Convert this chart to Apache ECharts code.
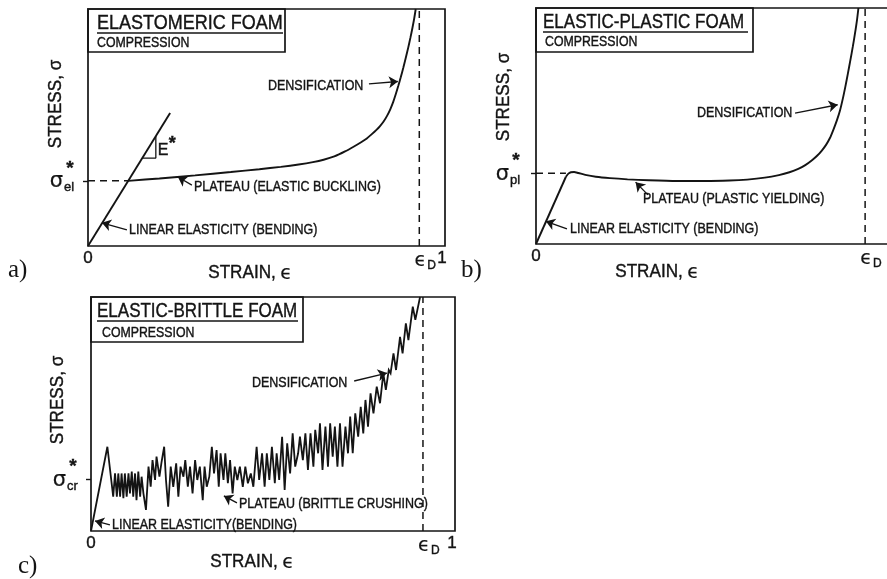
<!DOCTYPE html>
<html><head><meta charset="utf-8">
<script src="https://cdn.jsdelivr.net/npm/echarts@6/dist/echarts.min.js"></script>
<style>html,body{margin:0;padding:0;background:#fff}#c{width:887px;height:579px}</style>
</head><body><div id="c"></div>
<script>
// ---------- DATA (strain, stress in normalised units) ----------
// Panel a: elastomeric foam
const aLinX = [0, 0.23];
const aLinY = [0, 0.561];
const aPlatX = [0.113, 0.2, 0.3, 0.4, 0.48, 0.54, 0.59, 0.63, 0.66, 0.69, 0.72, 0.745, 0.765, 0.781, 0.795, 0.808, 0.818, 0.828, 0.838, 0.847, 0.855, 0.862, 0.869, 0.876, 0.883, 0.89, 0.897, 0.903, 0.909, 0.914, 0.918];
const aPlatY = [0.275, 0.285, 0.298, 0.312, 0.324, 0.334, 0.344, 0.354, 0.364, 0.378, 0.399, 0.42, 0.438, 0.454, 0.472, 0.49, 0.506, 0.525, 0.55, 0.578, 0.608, 0.64, 0.675, 0.712, 0.751, 0.793, 0.837, 0.878, 0.922, 0.962, 1.0];
const aSigma = 0.275;
const aEpsD = 0.928;
const aTriX = [0.152, 0.19, 0.19];
const aTriY = [0.371, 0.371, 0.463];

// Panel b: elastic-plastic foam
const bLinX = [0, 0.085];
const bLinY = [0, 0.285];
const bCurveX = [0.085, 0.092, 0.099, 0.108, 0.12, 0.14, 0.17, 0.21, 0.26, 0.32, 0.4, 0.48, 0.55, 0.6, 0.65, 0.69, 0.72, 0.745, 0.765, 0.785, 0.8, 0.812, 0.824, 0.835, 0.845, 0.855, 0.864, 0.872, 0.879, 0.886, 0.893, 0.9, 0.906, 0.912, 0.916];
const bCurveY = [0.285, 0.298, 0.304, 0.305, 0.301, 0.293, 0.285, 0.279, 0.274, 0.27, 0.267, 0.267, 0.269, 0.273, 0.281, 0.292, 0.304, 0.318, 0.334, 0.356, 0.376, 0.396, 0.42, 0.449, 0.485, 0.525, 0.568, 0.618, 0.668, 0.722, 0.778, 0.836, 0.89, 0.95, 1.0];
const bSigma = 0.30;
const bEpsD = 0.935;

// Panel c: elastic-brittle foam (sawtooth)
const cX = [0, 0.045, 0.061, 0.066, 0.071, 0.075, 0.08, 0.084, 0.089, 0.093, 0.098, 0.103, 0.107, 0.112, 0.116, 0.121, 0.125, 0.13, 0.135, 0.139, 0.144, 0.151, 0.158, 0.164, 0.169, 0.176, 0.18, 0.188, 0.194, 0.201, 0.206, 0.212, 0.219, 0.226, 0.234, 0.24, 0.246, 0.254, 0.259, 0.266, 0.272, 0.279, 0.286, 0.292, 0.299, 0.307, 0.312, 0.318, 0.325, 0.332, 0.338, 0.345, 0.351, 0.356, 0.364, 0.369, 0.376, 0.382, 0.389, 0.395, 0.402, 0.409, 0.417, 0.424, 0.431, 0.439, 0.446, 0.455, 0.462, 0.47, 0.477, 0.483, 0.49, 0.497, 0.505, 0.51, 0.517, 0.525, 0.532, 0.539, 0.547, 0.554, 0.561, 0.569, 0.574, 0.582, 0.589, 0.596, 0.603, 0.611, 0.616, 0.624, 0.629, 0.636, 0.644, 0.651, 0.657, 0.664, 0.67, 0.677, 0.684, 0.691, 0.699, 0.706, 0.712, 0.719, 0.726, 0.734, 0.741, 0.748, 0.754, 0.761, 0.768, 0.776, 0.785, 0.794, 0.803, 0.81, 0.818, 0.823, 0.831, 0.838, 0.849, 0.856, 0.865, 0.872, 0.884, 0.891, 0.904];
const cY = [0, 0.36, 0.147, 0.246, 0.147, 0.246, 0.147, 0.246, 0.14, 0.246, 0.147, 0.246, 0.161, 0.254, 0.147, 0.246, 0.132, 0.254, 0.147, 0.232, 0.161, 0.09, 0.275, 0.189, 0.303, 0.218, 0.318, 0.232, 0.296, 0.36, 0.218, 0.104, 0.275, 0.189, 0.289, 0.147, 0.275, 0.232, 0.303, 0.189, 0.275, 0.161, 0.303, 0.218, 0.275, 0.132, 0.275, 0.189, 0.232, 0.36, 0.246, 0.346, 0.189, 0.332, 0.218, 0.332, 0.204, 0.303, 0.161, 0.275, 0.218, 0.275, 0.189, 0.275, 0.204, 0.246, 0.189, 0.36, 0.218, 0.332, 0.189, 0.332, 0.218, 0.36, 0.204, 0.332, 0.218, 0.403, 0.175, 0.375, 0.246, 0.417, 0.275, 0.332, 0.403, 0.303, 0.417, 0.261, 0.417, 0.275, 0.432, 0.332, 0.46, 0.261, 0.446, 0.275, 0.46, 0.318, 0.446, 0.275, 0.46, 0.275, 0.446, 0.332, 0.489, 0.332, 0.503, 0.403, 0.531, 0.417, 0.56, 0.446, 0.588, 0.503, 0.617, 0.546, 0.674, 0.603, 0.688, 0.674, 0.759, 0.688, 0.83, 0.759, 0.887, 0.816, 0.959, 0.902, 1.0];
const cSigma = 0.222;
const cEpsD = 0.912;

// Annotation arrows [tailX, tailY, headX, headY] in data units
const aArrows = [[0.787, 0.684, 0.868, 0.694], [0.291, 0.257, 0.252, 0.291], [0.109, 0.068, 0.039, 0.098]];
const bArrows = [[0.736, 0.555, 0.857, 0.590], [0.318, 0.208, 0.283, 0.262], [0.088, 0.064, 0.028, 0.096]];
const cArrows = [[0.723, 0.641, 0.813, 0.675], [0.401, 0.120, 0.365, 0.150], [0.052, 0.026, 0.011, 0.043]];

// Texts
const titles = ['ELASTOMERIC FOAM', 'ELASTIC-PLASTIC FOAM', 'ELASTIC-BRITTLE FOAM'];
const subTitle = 'COMPRESSION';
const aNotes = ['DENSIFICATION', 'PLATEAU (ELASTIC BUCKLING)', 'LINEAR ELASTICITY (BENDING)'];
const bNotes = ['DENSIFICATION', 'PLATEAU (PLASTIC YIELDING)', 'LINEAR ELASTICITY (BENDING)'];
const cNotes = ['DENSIFICATION', 'PLATEAU (BRITTLE CRUSHING)', 'LINEAR ELASTICITY(BENDING)'];
const sigmaSubs = ['el', 'pl', 'cr'];
const panelTags = ['a)', 'b)', 'c)'];

// ---------- LAYOUT ----------
const L = {
  grids: [
    {left: 88, top: 9, width: 357, height: 237},
    {left: 536, top: 8, width: 352, height: 236},
    {left: 91, top: 297, width: 364, height: 234}
  ],
  titleBox: [[88, 9, 197, 43], [536, 8, 217, 44], [91, 297, 212, 45]],
  titlePos: [[97, 23, 0.9], [543, 22, 0.85], [97, 311, 0.85]],
  subPos: [[97, 43], [545, 42], [102, 333]],
  notePos: [
    [[268, 86], [194, 187], [129, 230]],
    [[697, 113], [643, 199], [570, 229]],
    [[252, 383], [239, 504], [112, 525]]
  ],
  stressPos: [[56, 104], [504, 97], [58, 400]],
  strainPos: [[250, 273], [657, 272], [252, 562]],
  tagPos: [[8, 270], [461, 270], [18, 566]],
  sigmaX: [63, 509, 66]
};

const INK = '#141414';
const SANS = '"Liberation Sans", Arial, "DejaVu Sans", sans-serif';
const zip = (xs, ys) => xs.map((x, i) => [x, ys[i]]);

const chart = echarts.init(document.getElementById('c'), null, {renderer: 'canvas'});

const grids = L.grids.map(g => Object.assign({show: true, borderColor: INK, borderWidth: 1.7, backgroundColor: 'transparent', containLabel: false, outerBoundsMode: 'none'}, g));
const sigmas = [aSigma, bSigma, cSigma];
const xAxes = [0, 1, 2].map(i => ({gridIndex: i, type: 'value', min: 0, max: 1, axisLine: {show: false}, splitLine: {show: false}, axisTick: {show: false}, axisLabel: {show: false}}));
const yAxes = [0, 1, 2].map(i => ({gridIndex: i, type: 'value', min: 0, max: 1, axisLine: {show: false}, splitLine: {show: false},
  axisTick: {show: true, customValues: [sigmas[i]], length: 5, lineStyle: {color: INK, width: 1.4}}, axisLabel: {show: false}}));

function line(i, data, opts) {
  return Object.assign({type: 'line', xAxisIndex: i, yAxisIndex: i, data: data, symbol: 'none', silent: true, animation: false,
    lineStyle: {color: INK, width: 1.9}}, opts || {});
}
function dashed(i, data) {
  return line(i, data, {lineStyle: {color: INK, width: 1.5, type: [7, 5]}});
}
function arrows(i, arr) {
  return {type: 'lines', coordinateSystem: 'cartesian2d', xAxisIndex: i, yAxisIndex: i, silent: true, animation: false,
    symbol: ['none', 'arrow'], symbolSize: 9,
    lineStyle: {color: INK, width: 1.3, opacity: 1},
    data: arr.map(a => ({coords: [[a[0], a[1]], [a[2], a[3]]]}))};
}

const series = [
  line(0, zip(aLinX, aLinY)),
  line(0, zip(aPlatX, aPlatY), {smooth: 0.25}),
  dashed(0, [[0, aSigma], [aPlatX[0], aSigma]]),
  dashed(0, [[aEpsD, 0], [aEpsD, 1]]),
  line(0, zip(aTriX, aTriY), {lineStyle: {color: INK, width: 1.3}}),
  arrows(0, aArrows),
  line(1, zip(bLinX, bLinY)),
  line(1, zip(bCurveX, bCurveY), {smooth: 0.25}),
  dashed(1, [[0, bSigma], [bLinX[1], bSigma]]),
  dashed(1, [[bEpsD, 0], [bEpsD, 1]]),
  arrows(1, bArrows),
  line(2, zip(cX, cY), {lineStyle: {color: INK, width: 1.8, join: 'miter', miterLimit: 4}}),
  dashed(2, [[cEpsD, 0], [cEpsD, 1]]),
  arrows(2, cArrows)
];

chart.setOption({animation: false, backgroundColor: '#fff', grid: grids, xAxis: xAxes, yAxis: yAxes, series: series});

// ---------- TEXT / FRAMES ----------
const g = [];
function txt(x, y, text, size, extra) {
  extra = extra || {};
  g.push({type: 'text', x: x, y: y, z: 10, silent: true, rotation: extra.rotation || 0,
    scaleX: extra.sx || 1, scaleY: 1,
    style: Object.assign({text: text, font: (extra.weight || 'normal') + ' ' + size + 'px ' + (extra.family || SANS), fill: INK,
      align: 'left', verticalAlign: 'middle', stroke: INK, lineWidth: extra.bw == null ? 0.4 : extra.bw}, extra.style || {})});
}
const notes = [aNotes, bNotes, cNotes];
const epsD = [aEpsD, bEpsD, cEpsD];
const EPSF = '"DejaVu Sans", sans-serif';
for (let i = 0; i < 3; i++) {
  const b = L.titleBox[i];
  g.push({type: 'rect', z: 10, silent: true, shape: {x: b[0], y: b[1], width: b[2], height: b[3]}, style: {fill: 'none', stroke: INK, lineWidth: 1.7}});
  const t = L.titlePos[i];
  txt(t[0], t[1], titles[i], 20, {sx: t[2]});
  const s = L.subPos[i];
  txt(s[0], s[1], subTitle, 14, {sx: 0.88});
  notes[i].forEach((n, k) => txt(L.notePos[i][k][0], L.notePos[i][k][1], n, 14.5, {sx: 0.86}));
  // axis names
  txt(L.stressPos[i][0], L.stressPos[i][1], 'STRESS, σ', 18, {rotation: Math.PI / 2, sx: 0.95, style: {align: 'center'}});
  txt(L.strainPos[i][0] - 8, L.strainPos[i][1], 'STRAIN,', 18, {sx: 0.95, style: {align: 'center'}});
  txt(L.strainPos[i][0] + 36, L.strainPos[i][1] + 1, 'ϵ', 19, {family: EPSF, bw: 0.2, style: {align: 'center'}});
  // panel tag
  txt(L.tagPos[i][0], L.tagPos[i][1], panelTags[i], 25, {family: '"Liberation Serif", "DejaVu Serif", serif', bw: 0});
  // tick labels
  const p0 = chart.convertToPixel({gridIndex: i}, [0, 0]);
  const pD = chart.convertToPixel({gridIndex: i}, [epsD[i], 0]);
  const p1 = chart.convertToPixel({gridIndex: i}, [1, 0]);
  const ps = chart.convertToPixel({gridIndex: i}, [0, sigmas[i]]);
  txt(p0[0], p0[1] + 12, '0', 17, {style: {align: 'center'}});
  txt(pD[0] + 1, pD[1] + 15, 'ϵ', 19, {family: EPSF, bw: 0.2, style: {align: 'center'}});
  txt(pD[0] + 8, pD[1] + 20, 'D', 12, {});
  if (i !== 1) txt(p1[0] - 3, p1[1] + 12, '1', 17, {style: {align: 'center'}});
  // sigma star labels
  const sx = L.sigmaX[i];
  txt(sx, ps[1] + 1, 'σ', 21, {family: EPSF, bw: 0.2, style: {align: 'right'}});
  txt(sx + 7, ps[1] - 12, '*', 19, {weight: 'bold', style: {align: 'center'}});
  txt(sx + 1, ps[1] + 7, sigmaSubs[i], 13, {});
}
// title underlines
const ul = [[97, 33, 283], [543, 32, 748], [97, 321, 298]];
ul.forEach(u => g.push({type: 'line', z: 10, silent: true, shape: {x1: u[0], y1: u[1], x2: u[2], y2: u[1]}, style: {stroke: INK, lineWidth: 1.5}}));
// E* slope label
const eStar = chart.convertToPixel({gridIndex: 0}, [aTriX[2], (aTriY[0] + aTriY[2]) / 2]);
txt(eStar[0] + 2, eStar[1] + 3, 'E', 16, {});
txt(eStar[0] + 13, eStar[1] - 3, '*', 18, {weight: 'bold'});

chart.setOption({graphic: g});
</script></body></html>
